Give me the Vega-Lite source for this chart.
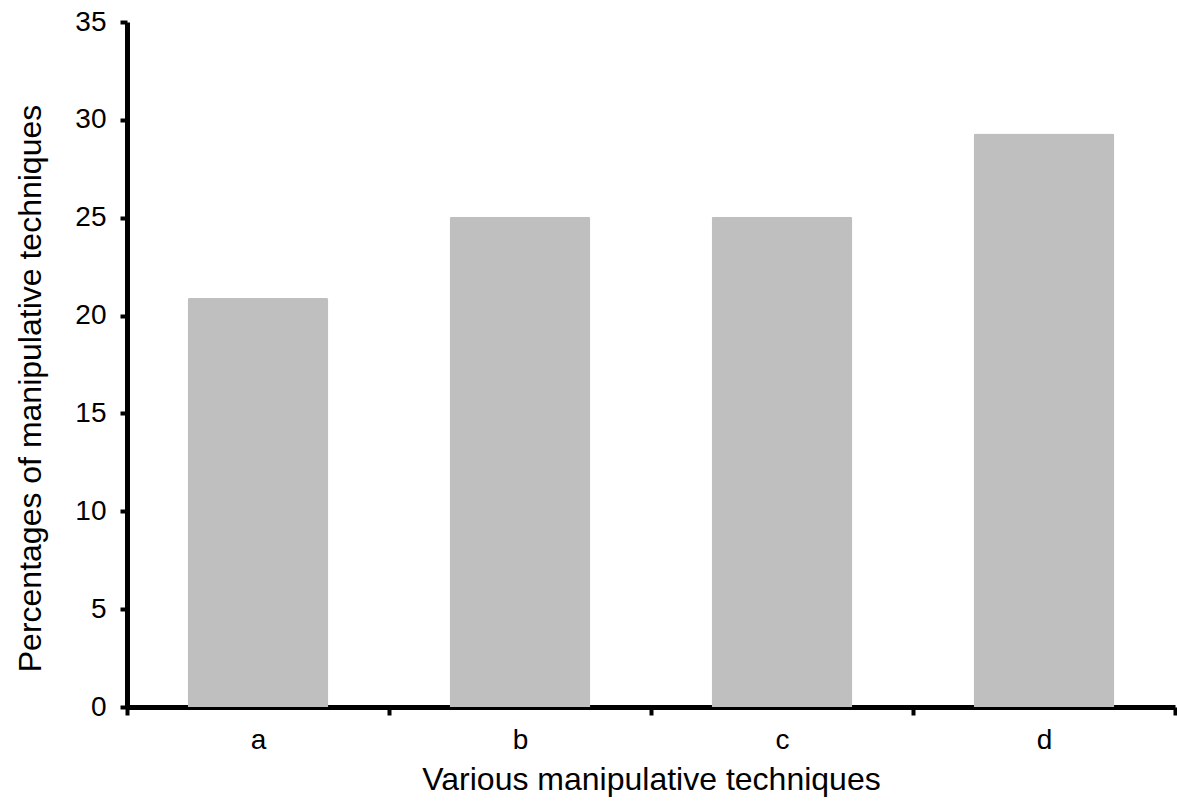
{
  "$schema": "https://vega.github.io/schema/vega-lite/v6.json",
  "width": 1048,
  "height": 685,
  "autosize": {"type": "none"},
  "padding": {"left": 127, "top": 22, "right": 2, "bottom": 98},
  "background": "white",
  "config": {"view": {"stroke": null}, "font": "Liberation Sans"},
  "data": {"values": [
    {"technique": "a", "pct": 20.9},
    {"technique": "b", "pct": 25.05},
    {"technique": "c", "pct": 25.05},
    {"technique": "d", "pct": 29.3}
  ]},
  "mark": {"type": "bar", "color": "#bfbfbf", "width": {"band": 0.537}, "cornerRadiusTopLeft": 2, "cornerRadiusTopRight": 2},
  "encoding": {
    "x": {
      "field": "technique", "type": "nominal",
      "scale": {"paddingInner": 0, "paddingOuter": 0},
      "axis": {
        "title": "Various manipulative techniques",
        "labelAngle": 0,
        "tickBand": "extent",
        "domainColor": "black", "domainWidth": 5,
        "tickColor": "black", "tickWidth": 4, "tickSize": 8,
        "labelFont": "Liberation Sans", "labelFontSize": 28, "labelColor": "black", "labelPadding": 11,
        "titleFont": "Liberation Sans", "titleFontSize": 32, "titleFontWeight": "normal", "titleColor": "black", "titlePadding": 10
      }
    },
    "y": {
      "field": "pct", "type": "quantitative",
      "scale": {"domain": [0, 35], "nice": false},
      "axis": {
        "title": "Percentages of manipulative techniques",
        "values": [0, 5, 10, 15, 20, 25, 30, 35],
        "grid": false,
        "domainColor": "black", "domainWidth": 5,
        "tickColor": "black", "tickWidth": 4, "tickSize": 7,
        "labelFont": "Liberation Sans", "labelFontSize": 28, "labelColor": "black", "labelPadding": 14,
        "titleFont": "Liberation Sans", "titleFontSize": 32, "titleFontWeight": "normal", "titleColor": "black", "titlePadding": 27,
        "titleY": 366
      }
    }
  }
}
